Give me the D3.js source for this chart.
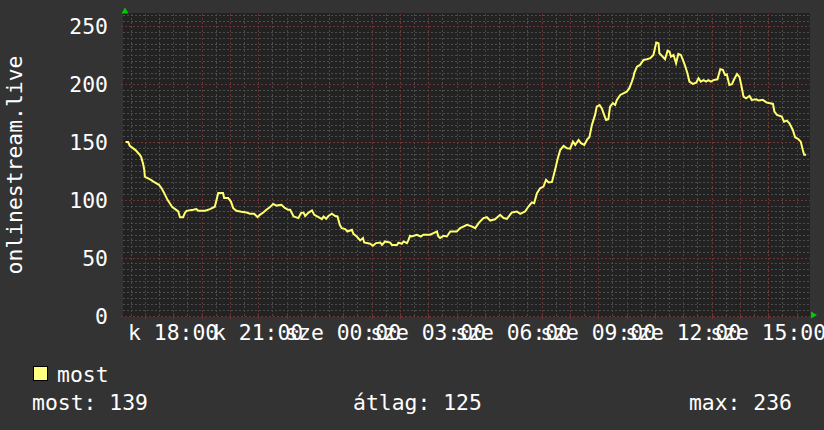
<!DOCTYPE html>
<html>
<head>
<meta charset="utf-8">
<script src="https://cdn.jsdelivr.net/npm/d3@7"></script>
<style>
  body { margin: 0; background: #333333; }
  svg { display: block; }
  text { font-family: "DejaVu Sans Mono", monospace; font-size: 21.4px; fill: #ffffff; }
</style>
</head>
<body>
<div id="chart"></div>
<script>
// hours since tuesday 00:00 (k = kedd, sze = szerda)
const hours = [16.32,16.41,16.47,16.67,16.82,16.87,16.94,16.98,17.00,17.23,17.35,17.50,17.59,17.68,17.80,17.88,17.96,
  18.18,18.24,18.35,18.41,18.47,18.71,18.82,18.88,19.13,19.30,19.47,19.59,19.76,19.80,19.94,20.04,20.12,20.23,20.41,
  20.59,20.71,20.86,20.98,21.06,21.18,21.29,21.41,21.53,21.65,21.82,21.94,22.06,22.13,22.25,22.42,22.51,22.60,22.66,
  22.78,22.90,22.98,23.13,23.25,23.31,23.40,23.48,23.60,23.72,23.80,23.88,23.95,24.07,24.15,24.31,24.36,24.48,24.60,
  24.70,24.74,24.95,25.05,25.16,25.31,25.37,25.48,25.66,25.72,25.90,25.95,26.07,26.13,26.25,26.30,26.36,26.42,26.60,
  26.74,26.83,27.07,27.19,27.31,27.36,27.42,27.54,27.66,27.78,28.01,28.13,28.37,28.54,28.66,28.78,28.95,29.07,29.19,
  29.36,29.54,29.66,29.78,29.95,30.13,30.25,30.42,30.54,30.66,30.74,30.84,30.95,31.07,31.16,31.25,31.37,31.48,31.56,
  31.66,31.78,31.90,32.01,32.11,32.19,32.31,32.39,32.51,32.62,32.69,32.78,32.89,32.95,33.05,33.13,33.21,33.28,33.36,
  33.42,33.52,33.60,33.66,33.78,33.89,34.01,34.10,34.19,34.25,34.27,34.37,34.48,34.60,34.72,34.84,34.95,35.05,35.13,
  35.16,35.25,35.36,35.45,35.52,35.57,35.66,35.75,35.83,35.92,35.99,36.07,36.15,36.22,36.34,36.46,36.54,36.62,36.72,
  36.81,36.89,36.98,37.07,37.21,37.31,37.40,37.48,37.54,37.63,37.72,37.80,37.90,37.99,38.05,38.13,38.22,38.34,38.42,
  38.58,38.66,38.81,38.95,39.07,39.17,39.22,39.31,39.48,39.56,39.66,39.75,39.87,39.95,40.07,40.15,40.22,40.27,40.34];
const most = [150,150,146.6,143,139,137,131,126,120,117,115,113,110,106,100,97,94,
  90,85,85,88.5,90.5,91.4,92,90.5,90.5,92,94,105.8,105.8,101.5,101.5,98.5,92.8,90.5,89.6,
  89,88,88,85,87,89,91.4,93.5,96.5,95,95.7,93,91.4,91.4,85.6,84.2,88.5,89,86,
  89,90.8,87,85,83.3,85.6,83.6,86,88,86,85.6,78.4,75.5,74.7,72.6,74,70.6,68.3,64.9,
  67,63.1,62,60.3,62.6,63.1,61,64,63,61,61,63,62,64,62.6,64.9,68.9,68.3,69.8,
  68.3,69.8,69.8,71.2,72.6,68.3,67,68.9,68.3,72.6,72.6,75.5,78.4,77,75.5,79.9,84.2,85,82.1,
  83.2,87,84.2,83.6,89,89.9,87.9,89.9,94.2,97.7,97,105.8,110,111.5,117.3,115,115.5,125.9,134.5,
  143,146.6,144.6,144.3,150.3,147.5,151.8,149,147.5,152.4,154,164.8,173.4,180.6,182,179,173.4,169,169.6,
  180.6,183.5,182,186.4,190.7,192.1,193.5,196.5,202.2,206.5,209.4,215.1,216.6,220.9,221.5,222.4,225.2,236,235.3,
  226.7,224.4,221.5,228.9,228,223.8,225.2,218,226.1,225.2,220.9,215.7,209.4,202.2,200.2,201.3,205.1,202.2,203.5,
  202.2,203.5,202.2,203.5,204.2,212.9,212.4,207.9,208.4,199.3,200,204.2,208.8,206,199.3,189.2,187.8,189.8,186.4,
  186.9,185.8,186.4,184,183.5,182.9,176.2,173.4,171.9,167.6,168.5,166.2,160.4,154.1,152.4,150.3,143.2,139,139];

const yTicks = [0, 50, 100, 150, 200, 250];
const xTickHours = [18, 21, 24, 27, 30, 33, 36, 39];
const xTickLabels = ["k 18:00", "k 21:00", "sze 00:00", "sze 03:00", "sze 06:00", "sze 09:00", "sze 12:00", "sze 15:00"];
const yTitle = "onlinestream.live";
const legendName = "most";
const stats = ["most: 139", "átlag: 125", "max: 236"];

const W = 824, H = 430;
const canvas = {left: 123, right: 810, top: 13, bottom: 317};
const minorColor = "#4c4c4c", majorColor = "#6e3434";

const svg = d3.select("#chart").append("svg")
    .attr("width", W).attr("height", H);

svg.append("rect").attr("width", W).attr("height", H).attr("fill", "#333333");

const x = d3.scaleLinear().domain([16.3, 40.3]).range([125, 805]);
const y = d3.scaleLinear().domain([0, 250]).range([315.5, 26.3]);

// plot canvas
svg.append("rect")
    .attr("x", canvas.left).attr("y", canvas.top)
    .attr("width", canvas.right - canvas.left).attr("height", canvas.bottom - canvas.top)
    .attr("fill", "#222222");

const grid = svg.append("g").attr("shape-rendering", "crispEdges");

// minor grid: every 5 units, every half hour
d3.range(5, 261, 5).filter(v => v % 50 != 0).forEach(v => {
    grid.append("line").attr("x1", canvas.left).attr("x2", canvas.right)
        .attr("y1", Math.round(y(v)) + 0.5).attr("y2", Math.round(y(v)) + 0.5)
        .attr("stroke", minorColor).attr("stroke-dasharray", "2,2");
});
d3.range(16.5, 40.3, 0.5).filter(h => h % 1 != 0).forEach(h => {
    grid.append("line").attr("y1", canvas.top + 1).attr("y2", y(0))
        .attr("x1", Math.round(x(h)) + 0.5).attr("x2", Math.round(x(h)) + 0.5)
        .attr("stroke", minorColor).attr("stroke-dasharray", "2,2");
});
// major grid: every 50, every hour
yTicks.forEach(v => {
    grid.append("line").attr("x1", canvas.left - 2).attr("x2", canvas.right)
        .attr("y1", Math.round(y(v)) + 0.5).attr("y2", Math.round(y(v)) + 0.5)
        .attr("stroke", majorColor).attr("stroke-dasharray", "2,2");
});
d3.range(17, 41, 1).forEach(h => {
    grid.append("line").attr("y1", canvas.top + 1).attr("y2", y(0))
        .attr("x1", Math.round(x(h)) + 0.5).attr("x2", Math.round(x(h)) + 0.5)
        .attr("stroke", majorColor).attr("stroke-dasharray", "2,2");
    grid.append("line").attr("y1", y(0) - 3).attr("y2", y(0) + 3)
        .attr("x1", Math.round(x(h)) + 0.5).attr("x2", Math.round(x(h)) + 0.5)
        .attr("stroke", majorColor);
});

// y axis labels
svg.append("g").selectAll("text").data(yTicks).join("text")
    .attr("x", 108).attr("y", d => y(d) + 8)
    .attr("text-anchor", "end")
    .text(d => d);

// x axis labels
svg.append("g").selectAll("text").data(xTickHours).join("text")
    .attr("x", d => x(d)).attr("y", 339.5)
    .attr("text-anchor", "middle")
    .text((d, i) => xTickLabels[i]);

// title
svg.append("text")
    .attr("transform", "translate(22,165) rotate(-90)")
    .attr("text-anchor", "middle")
    .text(yTitle);

// the line
const line = d3.line().x((d, i) => x(hours[i])).y(d => y(d));
svg.append("path").datum(most)
    .attr("d", line)
    .attr("fill", "none")
    .attr("stroke", "#ffff70")
    .attr("stroke-width", 2)
    .attr("stroke-linejoin", "miter");

// green arrows
svg.append("path").attr("d", "M125,7.5 L121.5,13.5 L128.5,13.5 Z").attr("fill", "#00cc00");
svg.append("path").attr("d", "M817,315 L811,311.5 L811,318.5 Z").attr("fill", "#00cc00");

// legend
svg.append("rect").attr("x", 33.5).attr("y", 366.5).attr("width", 14).attr("height", 14)
    .attr("fill", "#ffff80").attr("stroke", "#000000");
svg.append("text").attr("x", 57).attr("y", 382).text(legendName);

svg.append("text").attr("x", 32).attr("y", 410).text(stats[0]);
svg.append("text").attr("x", 353).attr("y", 410).text(stats[1]);
svg.append("text").attr("x", 792).attr("y", 410).attr("text-anchor", "end").text(stats[2]);
</script>
</body>
</html>
